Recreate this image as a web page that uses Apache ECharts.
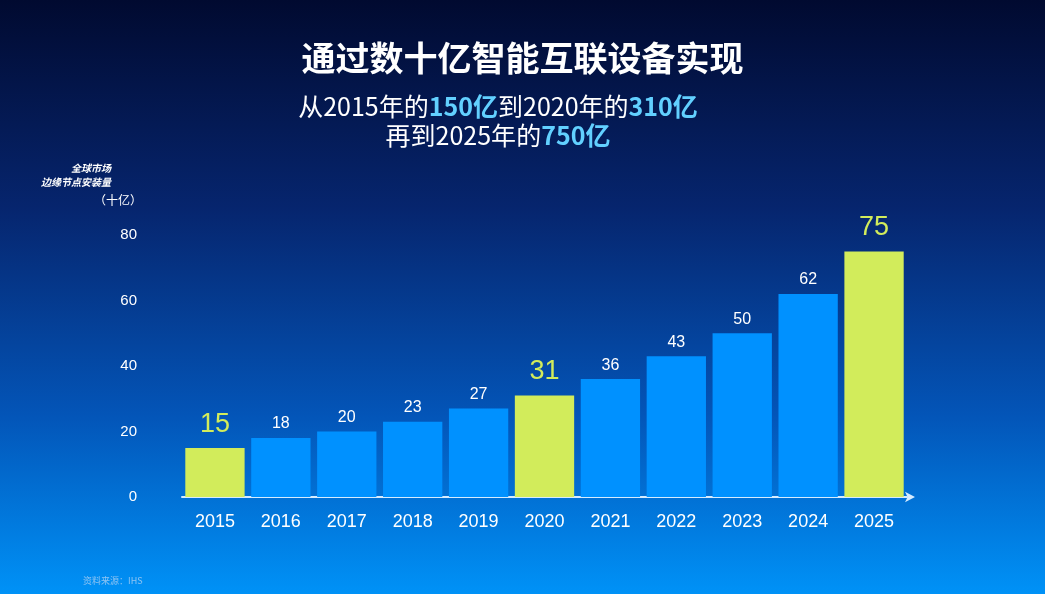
<!DOCTYPE html>
<html>
<head>
<meta charset="utf-8">
<script src="https://cdn.jsdelivr.net/npm/echarts@6/dist/echarts.min.js"></script>
<style>
html,body{margin:0;padding:0;}
#chart{width:1045px;height:594px;}
</style>
</head>
<body>
<div id="chart"></div>
<script>
// 年份
var years = ['2015','2016','2017','2018','2019','2020','2021','2022','2023','2024','2025'];
// 安装量（十亿）
var counts = [15, 18, 20, 23, 27, 31, 36, 43, 50, 62, 75];
// 高亮的年份
var highlightYears = ['2015','2020','2025'];
var yTicks = [0, 20, 40, 60, 80];

var blue = '#0091ff';
var green = '#d2ec5b';
var font = '"Noto Sans CJK SC", "Liberation Sans", sans-serif';

function buildData(){
	var rows = [];
	for(var i=0;i<years.length;i++){
		var hl = highlightYears.indexOf(years[i]) >= 0;
		rows.push({
			value: counts[i],
			itemStyle: {color: hl ? green : blue},
			label: hl ? {color: green, fontSize: 27, distance: 10} : {color: '#ffffff', fontSize: 16, distance: 6}
		});
	}
	return rows;
}

var option = {
	backgroundColor: {
		type: 'linear', x: 0, y: 0, x2: 0, y2: 1,
		colorStops: [
			{offset: 0, color: '#010a30'},
			{offset: 0.35, color: '#06256e'},
			{offset: 0.7, color: '#0355b8'},
			{offset: 1, color: '#0092f7'}
		]
	},
	textStyle: {fontFamily: font},
	title: [
		{
			text: '通过数十亿智能互联设备实现',
			left: 'center', top: 36,
			textStyle: {color: '#ffffff', fontSize: 34, fontWeight: 'bold', fontFamily: font}
		},
		{
			text: '从2015年的{b|150亿}到2020年的{b|310亿}\n再到2025年的{b|750亿}',
			left: 493, top: 87, textAlign: 'center',
			textStyle: {
				color: '#ffffff', fontSize: 25, fontWeight: 'normal', lineHeight: 29, fontFamily: font, align: 'center',
				rich: {
					b: {color: '#62d0ff', fontSize: 25, fontWeight: 'bold', lineHeight: 29, fontFamily: font}
				}
			}
		},
		{
			text: '全球市场\n边缘节点安装量',
			left: 106, top: 156, textAlign: 'right',
			textStyle: {color: '#ffffff', fontSize: 10, fontStyle: 'italic', fontWeight: 'bold', lineHeight: 14, align: 'right', fontFamily: font}
		},
		{
			text: '（十亿）',
			left: 113, top: 189, textAlign: 'center',
			textStyle: {color: '#ffffff', fontSize: 12, fontWeight: 'normal', fontFamily: font}
		},
		{
			text: '资料来源：IHS',
			left: 78, top: 571,
			textStyle: {color: '#8fc4f2', fontSize: 9, fontWeight: 'normal', fontFamily: font}
		}
	],
	grid: {left: 182, right: 138, top: 235, bottom: 97},
	xAxis: {
		type: 'category',
		data: years,
		axisLine: {
			show: true,
			symbol: ['none', 'arrow'],
			symbolSize: [8, 10],
			symbolOffset: [0, 8],
			lineStyle: {color: '#d6ecff', width: 2}
		},
		axisTick: {show: false},
		axisLabel: {color: '#ffffff', fontSize: 18, margin: 16, fontFamily: 'Liberation Sans'}
	},
	yAxis: {
		type: 'value',
		min: yTicks[0], max: yTicks[yTicks.length-1], interval: 20,
		axisLine: {show: false},
		axisTick: {show: false},
		splitLine: {show: false},
		axisLabel: {color: '#ffffff', fontSize: 15, margin: 45, fontFamily: 'Liberation Sans'}
	},
	series: [
		{
			name: '安装量',
			type: 'bar',
			barCategoryGap: '10%',
			data: buildData(),
			label: {show: true, position: 'top', fontFamily: 'Liberation Sans'}
		}
	]
};

var myChart = echarts.init(document.getElementById('chart'));
myChart.setOption(option);
</script>
</body>
</html>
